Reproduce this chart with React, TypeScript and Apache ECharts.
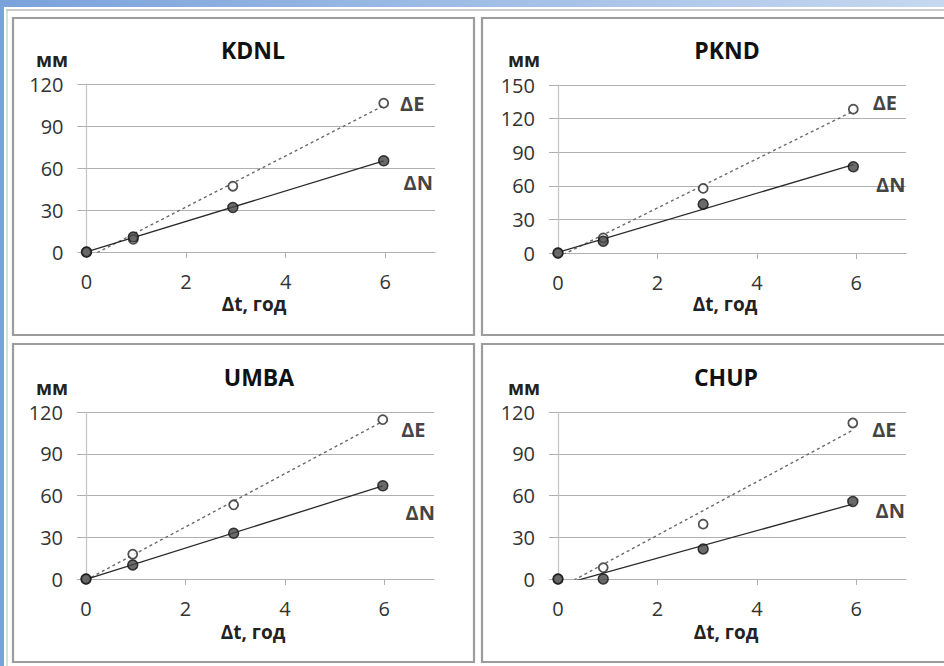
import React, { useEffect, useRef } from 'react';
import * as echarts from 'echarts';

// ---- data ----
const stations = ['KDNL', 'PKND', 'UMBA', 'CHUP'];
const tKDNL = [0, 0.94, 2.94, 5.97];
const dnKDNL = [0, 10.7, 31.8, 65.2];
const deKDNL = [0, 9, 47, 106.3];
const tPKND = [0, 0.91, 2.92, 5.94];
const dnPKND = [0, 10.5, 43.6, 77];
const dePKND = [0, 13.5, 57.7, 128.4];
const tUMBA = [0, 0.94, 2.97, 5.97];
const dnUMBA = [0, 10.1, 32.9, 67];
const deUMBA = [0, 17.8, 53.3, 114.5];
const tCHUP = [0, 0.91, 2.92, 5.93];
const dnCHUP = [0, 0, 21.6, 55.7];
const deCHUP = [0, 8.2, 39.4, 112.1];
const yMaxes = [120, 150, 120, 120];
const yStep = 30;
const xTicks = [0, 2, 4, 6];
const xMax = 7;
const yName = 'мм';
const xName = 'Δt, год';
const eName = 'ΔE';
const nName = 'ΔN';

const times = [tKDNL, tPKND, tUMBA, tCHUP];
const northSeries = [dnKDNL, dnPKND, dnUMBA, dnCHUP];
const eastSeries = [deKDNL, dePKND, deUMBA, deCHUP];

// ---- layout ----
const grids = [
  { left: 86.5, top: 84, width: 348.5, height: 168 },
  { left: 558, top: 85, width: 348, height: 168 },
  { left: 86, top: 412, width: 348, height: 167 },
  { left: 558, top: 412, width: 348, height: 167 },
];
const titlePos = [[253, 50], [727, 50], [259, 377], [726, 377]];
const mmPos = [[52, 60], [524, 60], [52, 388], [524, 388]];
const dtPos = [[254, 304], [725, 304], [253, 632], [726, 632]];
const eLabelOffset = [[6, 0], [9, -7], [8, 10], [9, 7]];
const nLabelOffset = [[9, 22], [12, 18], [12, 27], [12, 9]];
const panelRects = [
  [13, 18, 461, 317],
  [482, 18, 470, 317],
  [13, 344, 461, 318],
  [482, 344, 470, 318],
];

function trend(xs: number[], ys: number[]) {
  const n = xs.length;
  const mx = xs.reduce((a, b) => a + b, 0) / n;
  const my = ys.reduce((a, b) => a + b, 0) / n;
  let sxx = 0;
  let sxy = 0;
  for (let i = 0; i < n; i++) {
    sxx += (xs[i] - mx) * (xs[i] - mx);
    sxy += (xs[i] - mx) * (ys[i] - my);
  }
  const b = sxy / sxx;
  const a = my - b * mx;
  return [
    [xs[0], a + b * xs[0]],
    [xs[n - 1], a + b * xs[n - 1]],
  ];
}

const FONT = '"Open Sans", "DejaVu Sans", sans-serif';

export default function App() {
  const ref = useRef<HTMLDivElement>(null);
  useEffect(() => {
    if (!ref.current) return;
    const chart = echarts.init(ref.current, undefined, { renderer: 'svg' });

    const labelStyle = (text: string, off: number[]) => ({
      show: true,
      formatter: text,
      position: 'right',
      distance: 5,
      offset: off,
      fontFamily: FONT,
      fontWeight: 'bold',
      fontSize: 20,
      color: '#111111',
    });

    const series: any[] = [];
    stations.forEach((_, i) => {
      const ts = times[i];
      const dn = northSeries[i];
      const de = eastSeries[i];
      const last = ts.length - 1;
      series.push({
        type: 'line',
        xAxisIndex: i,
        yAxisIndex: i,
        data: trend(ts, de),
        symbol: 'none',
        clip: true,
        silent: true,
        lineStyle: { color: '#6a6a6a', width: 1.4, type: [3, 3] },
        z: 2,
      });
      series.push({
        type: 'line',
        xAxisIndex: i,
        yAxisIndex: i,
        data: trend(ts, dn),
        symbol: 'none',
        clip: true,
        silent: true,
        lineStyle: { color: '#2a2a2a', width: 1.3, type: 'solid' },
        z: 2,
      });
      series.push({
        type: 'scatter',
        xAxisIndex: i,
        yAxisIndex: i,
        symbol: 'circle',
        symbolSize: 9,
        clip: false,
        itemStyle: { color: '#ffffff', borderColor: '#262626', borderWidth: 1.8 },
        data: ts.map((t, k) =>
          k === last
            ? { value: [t, de[k]], label: labelStyle(eName, eLabelOffset[i]) }
            : [t, de[k]]
        ),
        z: 3,
      });
      series.push({
        type: 'scatter',
        xAxisIndex: i,
        yAxisIndex: i,
        symbol: 'circle',
        symbolSize: 10,
        clip: false,
        itemStyle: { color: '#454545', borderColor: '#141414', borderWidth: 1.5 },
        data: ts.map((t, k) =>
          k === last
            ? { value: [t, dn[k]], label: labelStyle(nName, nLabelOffset[i]) }
            : [t, dn[k]]
        ),
        z: 4,
      });
    });

    const graphics: any[] = [
      {
        type: 'rect',
        z: -20,
        silent: true,
        shape: { x: 0, y: 0, width: 944, height: 666 },
        style: {
          fill: new echarts.graphic.LinearGradient(0, 0, 1, 0, [
            { offset: 0, color: '#7aa2db' },
            { offset: 1, color: '#c6d8f0' },
          ]),
        },
      },
      {
        type: 'rect',
        z: -19,
        silent: true,
        shape: { x: 4, y: 7, width: 940, height: 659 },
        style: { fill: '#ffffff' },
      },
      {
        type: 'line',
        z: -18,
        silent: true,
        shape: { x1: 6, y1: 10, x2: 944, y2: 10 },
        style: { stroke: '#b8b8b8', lineWidth: 1.5 },
      },
      {
        type: 'line',
        z: -18,
        silent: true,
        shape: { x1: 7, y1: 10, x2: 7, y2: 666 },
        style: { stroke: '#c8c8c8', lineWidth: 1.2 },
      },
    ];
    panelRects.forEach((r) => {
      graphics.push({
        type: 'rect',
        z: -17,
        silent: true,
        shape: { x: r[0], y: r[1], width: r[2], height: r[3] },
        style: { fill: '#ffffff', stroke: '#9c9c9c', lineWidth: 2.2 },
      });
    });
    stations.forEach((name, i) => {
      graphics.push({
        type: 'text',
        z: 10,
        x: titlePos[i][0],
        y: titlePos[i][1],
        style: {
          text: name,
          align: 'center',
          verticalAlign: 'middle',
          font: `bold 23px ${FONT}`,
          fill: '#111111',
        },
      });
      graphics.push({
        type: 'text',
        z: 10,
        x: mmPos[i][0],
        y: mmPos[i][1],
        style: {
          text: yName,
          align: 'center',
          verticalAlign: 'middle',
          font: `bold 19px ${FONT}`,
          fill: '#222222',
          lineHeight: 14,
        },
      });
      graphics.push({
        type: 'text',
        z: 10,
        x: dtPos[i][0],
        y: dtPos[i][1],
        style: {
          text: xName,
          align: 'center',
          verticalAlign: 'middle',
          font: `bold 19px ${FONT}`,
          fill: '#222222',
        },
      });
    });

    const option: any = {
      animation: false,
      backgroundColor: '#ffffff',
      textStyle: { fontFamily: FONT },
      grid: grids.map((g) => ({ ...g, containLabel: false })),
      xAxis: grids.map((_, i) => ({
        type: 'value',
        gridIndex: i,
        min: 0,
        max: xMax,
        interval: 2,
        axisLine: { show: true, lineStyle: { color: '#b0b0b0', width: 1.2 } },
        axisTick: {
          show: true,
          length: 6,
          inside: false,
          customValues: xTicks,
          lineStyle: { color: '#b0b0b0' },
        },
        axisLabel: {
          show: true,
          margin: 20,
          customValues: xTicks,
          fontSize: 20,
          lineHeight: 18,
          fontFamily: FONT,
          color: '#333333',
        },
        splitLine: { show: false },
      })),
      yAxis: grids.map((_, i) => ({
        type: 'value',
        gridIndex: i,
        min: 0,
        max: yMaxes[i],
        interval: yStep,
        axisLine: { show: true, lineStyle: { color: '#c4c4c4', width: 1.2 } },
        axisTick: { show: true, length: 9, lineStyle: { color: '#b0b0b0' } },
        axisLabel: {
          show: true,
          margin: 23,
          fontSize: 20,
          lineHeight: 15,
          fontFamily: FONT,
          color: '#333333',
        },
        splitLine: { show: true, lineStyle: { color: '#b0b0b0', width: 1.2 } },
      })),
      graphic: { elements: graphics },
      series,
    };
    chart.setOption(option);
    return () => chart.dispose();
  }, []);

  return (
    <div
      ref={ref}
      style={{ position: 'fixed', left: 0, top: 0, width: 944, height: 666 }}
    />
  );
}
